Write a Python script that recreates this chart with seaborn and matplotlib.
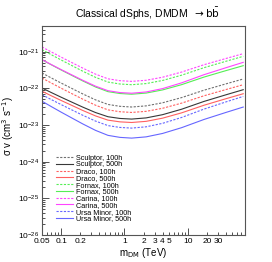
import numpy as np
import pandas as pd
import seaborn as sns
import matplotlib.pyplot as plt
from matplotlib.ticker import FixedLocator, FixedFormatter, LogLocator, NullFormatter

m_tev = [0.05, 0.07, 0.1, 0.15, 0.22, 0.35, 0.55, 0.85, 1.3, 2.2, 4, 8, 18, 40, 75]

# log10 of sigma v limit (cm^3 s^-1)
sculptor_100 = [-21.582, -21.717, -21.856, -22.009, -22.153, -22.315, -22.440, -22.491,
                -22.510, -22.479, -22.395, -22.253, -22.052, -21.879, -21.746]
sculptor_500 = [-21.992, -22.115, -22.242, -22.382, -22.513, -22.661, -22.775, -22.822,
                -22.839, -22.807, -22.719, -22.570, -22.358, -22.177, -22.038]
draco_100 = [-21.719, -21.855, -21.996, -22.151, -22.296, -22.461, -22.588, -22.639,
             -22.658, -22.628, -22.545, -22.404, -22.204, -22.034, -21.902]
draco_500 = [-22.079, -22.203, -22.331, -22.471, -22.604, -22.753, -22.868, -22.915,
             -22.932, -22.901, -22.814, -22.669, -22.462, -22.284, -22.148]
fornax_100 = [-20.945, -21.084, -21.227, -21.385, -21.534, -21.701, -21.830, -21.883,
              -21.902, -21.871, -21.786, -21.642, -21.438, -21.263, -21.128]
fornax_500 = [-21.222, -21.358, -21.499, -21.654, -21.799, -21.964, -22.091, -22.142,
              -22.161, -22.130, -22.044, -21.900, -21.694, -21.518, -21.383]
carina_100 = [-20.872, -21.008, -21.149, -21.304, -21.449, -21.614, -21.741, -21.792,
              -21.811, -21.781, -21.698, -21.557, -21.357, -21.187, -21.055]
carina_500 = [-21.219, -21.352, -21.489, -21.640, -21.782, -21.942, -22.065, -22.116,
              -22.134, -22.100, -22.008, -21.851, -21.629, -21.439, -21.292]
umi_100 = [-22.175, -22.307, -22.443, -22.594, -22.735, -22.894, -23.017, -23.067,
           -23.085, -23.050, -22.955, -22.795, -22.567, -22.371, -22.221]
umi_500 = [-22.352, -22.498, -22.649, -22.815, -22.971, -23.147, -23.283, -23.338,
           -23.358, -23.324, -23.231, -23.073, -22.850, -22.658, -22.511]

labels = ["Sculptor, 100h", "Sculptor, 500h", "Draco, 100h", "Draco, 500h",
          "Fornax, 100h", "Fornax, 500h", "Carina, 100h", "Carina, 500h",
          "Ursa Minor, 100h", "Ursa Minor, 500h"]
series = [sculptor_100, sculptor_500, draco_100, draco_500, fornax_100,
          fornax_500, carina_100, carina_500, umi_100, umi_500]

colors = ["#707070", "#383838", "#ff6060", "#ff6060", "#55ee55", "#55ee55",
          "#ff44ff", "#ff44ff", "#6666ff", "#6666ff"]

df = pd.concat([pd.DataFrame({"m": m_tev, "sv": 10.0 ** np.array(s), "src": lab})
                for lab, s in zip(labels, series)], ignore_index=True)

plt.rcParams["font.family"] = ["Liberation Sans", "DejaVu Sans"]
plt.rcParams["mathtext.fontset"] = "dejavusans"

fig = plt.figure(figsize=(2.72, 2.62), dpi=100)
ax = fig.add_axes([42 / 272, 1 - 235 / 262, 203 / 272, 209 / 262])

palette = dict(zip(labels, colors))
dashes = {lab: ((2, 1.3) if "100h" in lab else "") for lab in labels}
sns.lineplot(data=df, x="m", y="sv", hue="src", style="src", palette=palette,
             dashes=dashes, linewidth=0.8, ax=ax)

ax.set_xscale("log")
ax.set_yscale("log")
ax.set_xlim(0.05, 80)
ax.set_ylim(1e-26, 5e-21)

# x ticks like the original
ax.xaxis.set_major_locator(FixedLocator([0.1, 1, 10]))
ax.xaxis.set_major_formatter(FixedFormatter(["0.1", "1", "10"]))
minor_x = [0.05, 0.06, 0.07, 0.08, 0.09, 0.2, 0.3, 0.4, 0.5, 0.6, 0.7, 0.8, 0.9,
           2, 3, 4, 5, 6, 7, 8, 9, 20, 30, 40, 50, 60, 70, 80]
minor_lab = {0.05: "0.05", 0.2: "0.2", 2: "2", 3: "3", 4: "4", 5: "5", 20: "20", 30: "30"}
ax.xaxis.set_minor_locator(FixedLocator(minor_x))
ax.xaxis.set_minor_formatter(FixedFormatter([minor_lab.get(v, "") for v in minor_x]))
ax.yaxis.set_major_locator(FixedLocator([1e-26, 1e-25, 1e-24, 1e-23, 1e-22, 1e-21]))
ax.yaxis.set_minor_locator(LogLocator(base=10, subs=range(2, 10), numticks=20))
ax.yaxis.set_minor_formatter(NullFormatter())

ax.tick_params(which="both", direction="in", top=False, right=False, labelsize=6,
               width=0.6, color="#333333", pad=2)
ax.tick_params(which="major", length=5)
ax.tick_params(which="minor", length=2.5)
for sp in ax.spines.values():
    sp.set_linewidth(0.8)
    sp.set_color("#555555")

ax.set_xlabel("m$_{\\rm DM}$ (TeV)", fontsize=7, labelpad=1)
ax.set_ylabel("σ v (cm$^{3}$ s$^{-1}$)", fontsize=7)
ax.yaxis.set_label_coords(-0.13, 0.52)

fig.text(148 / 272, 1 - 14 / 262,
         "Classical dSphs, DMDM  $\\rightarrow \\mathrm{b}\\bar{\\mathrm{b}}$",
         ha="center", va="center", fontsize=7.5)

ax.legend(loc="upper left", bbox_to_anchor=(0.07, 0.385), frameon=False,
          fontsize=5.2, labelspacing=-0.04, handlelength=2.3, handletextpad=0.4,
          borderpad=0, borderaxespad=0)

fig.savefig("out.png", dpi=100)
